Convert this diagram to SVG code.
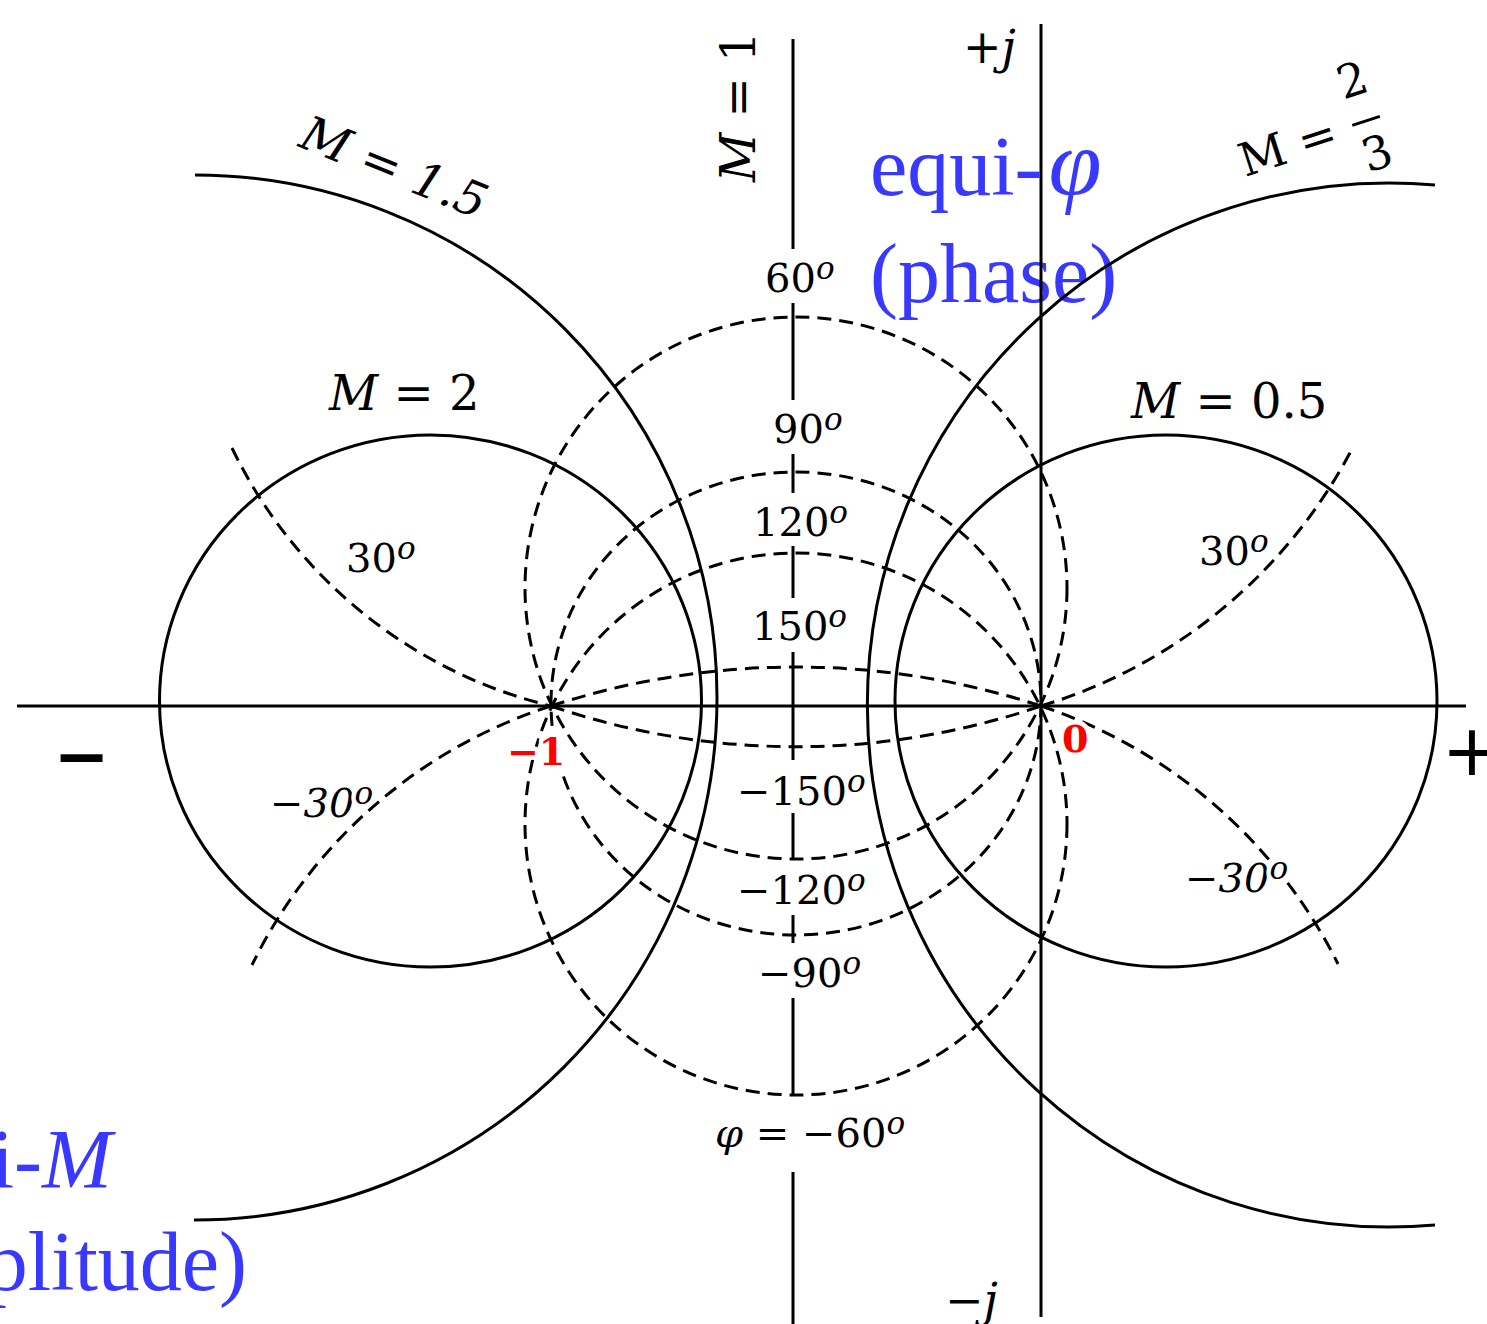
<svg xmlns="http://www.w3.org/2000/svg" width="1487" height="1324" viewBox="0 0 1487 1324">
<style>
.s{fill:none;stroke:#000;stroke-width:3}
.d{fill:none;stroke:#000;stroke-width:3;stroke-dasharray:14 8}
.ax{fill:none;stroke:#000;stroke-width:3}
.t{font-family:"DejaVu Serif",serif;fill:#000}
.m{font-size:48px}
.deg{font-size:40px}
.sup{font-size:31px;font-style:italic}
.it{font-style:italic}
.h{paint-order:stroke;stroke:#fff;stroke-width:9px;stroke-linejoin:round}
.red{font-family:"DejaVu Serif",serif;font-weight:bold;font-size:38px;fill:#f00}
.blue{font-family:"Liberation Serif","Times New Roman",serif;font-size:84px;fill:#3838ff}
.big{font-family:"DejaVu Sans",sans-serif;fill:#000}
</style>
<rect width="1487" height="1324" fill="#fff"/>

<g id="blue-labels">
<text class="blue" x="870" y="195">equi-<tspan class="it" font-size="96" dx="6">φ</tspan></text>
<text class="blue" x="870" y="302">(phase)</text>
<text class="blue" x="112" y="1188" text-anchor="end">equi-<tspan class="it">M</tspan></text>
<text class="blue" x="247" y="1290" text-anchor="end">(amplitude)</text>
</g>

<g id="m-circles">
<ellipse id="m2" class="s" cx="430.5" cy="701" rx="271" ry="266"/>
<ellipse id="m05" class="s" cx="1166" cy="701" rx="271" ry="266"/>
<path id="m15" class="s" d="M195,175 A522.5,522.5 0 1 1 194,1220"/>
<path id="m23" class="s" d="M1435,185 A522,522 0 1 0 1435,1225"/>
</g>

<g id="phase-circles">
<circle id="p60" class="d" cx="796" cy="588" r="271"/>
<ellipse id="p90" class="d" cx="796" cy="703.5" rx="245" ry="231.5"/>
<circle id="p120" class="d" cx="796" cy="824" r="271"/>
<path id="p150" class="d" d="M551,706 A789,789 0 0 1 1041,706"/>
<path id="pm150" class="d" d="M551,706 A757.8,757.8 0 0 0 1041,706"/>
<path id="p30l" class="d" d="M232,448 A479.7,479.7 0 0 0 551,706"/>
<path id="p30r" class="d" d="M1041,706 A520.4,520.4 0 0 0 1353,447"/>
<path id="pm30l" class="d" d="M551,706 A504.4,504.4 0 0 0 252,965"/>
<path id="pm30r" class="d" d="M1041,706 A513,513 0 0 1 1338,964"/>
</g>

<g id="axes">
<path class="ax" d="M17,706 H1466"/>
<path class="ax" d="M1041,24 V1317"/>
<path id="m1" class="ax" d="M793,39 V249 M793,303 V400 M793,454 V493 M793,546 V598 M793,652 V760 M793,813 V860 M793,915 V943 M793,998 V1095 M793,1172 V1324"/>
</g>

<g id="labels">
<text class="t m" transform="translate(297,146) rotate(22)"><tspan class="it">M = 1.5</tspan></text>
<g transform="translate(1245,177) rotate(-18)">
<text class="t" font-size="46" x="0" y="0">M =</text>
<text class="t" font-size="46" x="132" y="-43" text-anchor="middle">2</text>
<path d="M118,-16 H147" stroke="#000" stroke-width="3"/>
<text class="t" font-size="46" x="133" y="34" text-anchor="middle">3</text>
</g>
<text class="t m" transform="translate(755,182) rotate(-90)"><tspan class="it">M</tspan> = 1</text>
<text class="t" font-size="46" x="963" y="63">+<tspan class="it">j</tspan></text>
<text class="t" font-size="46" x="945" y="1316">−<tspan class="it">j</tspan></text>
<text class="big" font-size="67" font-weight="bold" x="81.5" y="779" text-anchor="middle">−</text>
<text class="big" font-size="72" x="1472" y="775" text-anchor="middle">+</text>
<text class="t m" x="329" y="410"><tspan class="it">M</tspan> = 2</text>
<text class="t m" x="1131" y="418"><tspan class="it">M</tspan> = 0.5</text>

<text class="t deg" x="765" y="292">60<tspan class="sup" dy="-13">o</tspan></text>
<text class="t deg" x="773" y="443">90<tspan class="sup" dy="-13">o</tspan></text>
<text class="t deg" x="753" y="536">120<tspan class="sup" dy="-13">o</tspan></text>
<text class="t deg" x="752" y="640">150<tspan class="sup" dy="-13">o</tspan></text>
<text class="t deg" x="737" y="805">−150<tspan class="sup" dy="-13">o</tspan></text>
<text class="t deg" x="737" y="904">−120<tspan class="sup" dy="-13">o</tspan></text>
<text class="t deg" x="758" y="987">−90<tspan class="sup" dy="-13">o</tspan></text>
<text class="t deg" x="715" y="1147"><tspan class="it">φ</tspan> = −60<tspan class="sup" dy="-13">o</tspan></text>
<text class="t deg h" x="346" y="572">30<tspan class="sup" dy="-13">o</tspan></text>
<text class="t deg h" x="1199" y="565">30<tspan class="sup" dy="-13">o</tspan></text>
<text class="t deg it h" x="270" y="817">−30<tspan class="sup" dy="-13">o</tspan></text>
<text class="t deg it h" x="1185" y="892">−30<tspan class="sup" dy="-13">o</tspan></text>

<text class="red h" x="507" y="765">−1</text>
<text class="red h" x="1062" y="752">0</text>
</g>
</svg>
